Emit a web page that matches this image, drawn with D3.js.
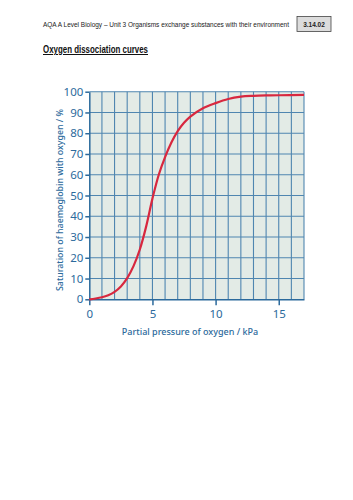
<!DOCTYPE html>
<html>
<head>
<meta charset="UTF-8">
<title>Oxygen dissociation curves</title>
<style>
  body { margin: 0; background: #fff; }
</style>
</head>
<body>
<div id="chart"></div>
<script src="https://cdn.jsdelivr.net/npm/d3@7"></script>
<script>
// data
var pressure = [0, 0.5, 1, 1.5, 2, 2.5, 3, 3.5, 4, 4.5, 5, 5.5, 6, 6.5, 7, 7.5, 8, 9, 10, 11, 12, 13, 14, 15, 17];
var saturation = [0, 0.4, 1, 2, 3.6, 6.2, 10.2, 16, 24, 35, 48.5, 60, 68.5, 75.5, 81, 85, 88, 92, 94.5, 96.5, 97.6, 98, 98.2, 98.3, 98.5];
var xTicks = [0, 5, 10, 15];
var yTicks = [0, 10, 20, 30, 40, 50, 60, 70, 80, 90, 100];

var headerText = "AQA A Level Biology \u2013 Unit 3 Organisms exchange substances with their environment";
var codeText = "3.14.02";
var titleText = "Oxygen dissociation curves";
var xTitle = "Partial pressure of oxygen / kPa";
var yTitle = "Saturation of haemoglobin with oxygen / %";

var width = 353, height = 500;
var plot = { left: 89.3, right: 304, top: 91.7, bottom: 299.3 };
var blue = "#2c6a9c";

var svg = d3.select("#chart").append("svg")
  .attr("width", width)
  .attr("height", height);

// page header
svg.append("text")
  .attr("x", 43).attr("y", 27)
  .attr("font-family", "Liberation Sans, Arial, sans-serif")
  .attr("font-size", 6.8)
  .attr("textLength", 246)
  .attr("lengthAdjust", "spacingAndGlyphs")
  .attr("fill", "#222")
  .text(headerText);

svg.append("rect")
  .attr("x", 297).attr("y", 16.5)
  .attr("width", 34).attr("height", 15)
  .attr("fill", "#dcdcdc")
  .attr("stroke", "#444")
  .attr("stroke-width", 0.8);

svg.append("text")
  .attr("x", 314).attr("y", 26.5)
  .attr("text-anchor", "middle")
  .attr("font-family", "Liberation Sans, Arial, sans-serif")
  .attr("font-size", 6.5)
  .attr("font-weight", "bold")
  .attr("fill", "#222")
  .text(codeText);

svg.append("text")
  .attr("x", 43).attr("y", 53)
  .attr("font-family", "Liberation Sans, Arial, sans-serif")
  .attr("font-size", 10)
  .attr("font-weight", "bold")
  .attr("textLength", 105)
  .attr("lengthAdjust", "spacingAndGlyphs")
  .attr("text-decoration", "underline")
  .attr("fill", "#111")
  .text(titleText);

// scales
var x = d3.scaleLinear().domain([0, 17]).range([plot.left, plot.right]);
var y = d3.scaleLinear().domain([0, 100]).range([plot.bottom, plot.top]);

// background
svg.append("rect")
  .attr("x", plot.left).attr("y", plot.top)
  .attr("width", plot.right - plot.left)
  .attr("height", plot.bottom - plot.top)
  .attr("fill", "#e3ebe6");

// grid
var grid = svg.append("g").attr("stroke", "#4f86b0").attr("stroke-width", 1.1);
grid.selectAll("line.v")
  .data(d3.range(1, 18))
  .join("line")
  .attr("class", "v")
  .attr("x1", function(d) { return x(d); })
  .attr("x2", function(d) { return x(d); })
  .attr("y1", plot.top)
  .attr("y2", plot.bottom);
grid.selectAll("line.h")
  .data(yTicks.slice(1))
  .join("line")
  .attr("class", "h")
  .attr("x1", plot.left)
  .attr("x2", plot.right)
  .attr("y1", function(d) { return y(d); })
  .attr("y2", function(d) { return y(d); });

// axes
var xAxis = d3.axisBottom(x).tickValues(xTicks).tickSize(6).tickPadding(5).tickSizeOuter(0);
var yAxis = d3.axisLeft(y).tickValues(yTicks).tickSize(4).tickPadding(2).tickSizeOuter(0);

var gx = svg.append("g")
  .attr("transform", "translate(0," + plot.bottom + ")")
  .call(xAxis);
var gy = svg.append("g")
  .attr("transform", "translate(" + plot.left + ",0)")
  .call(yAxis);

[gx, gy].forEach(function(g) {
  g.selectAll("path, line").attr("stroke", blue).attr("stroke-width", 1.5);
  g.selectAll("text")
    .attr("fill", blue)
    .attr("font-family", "Noto Sans, Open Sans, sans-serif")
    .attr("font-size", 11.5);
});

// axis titles
svg.append("text")
  .attr("x", 190).attr("y", 335)
  .attr("text-anchor", "middle")
  .attr("font-family", "Noto Sans, Open Sans, sans-serif")
  .attr("font-size", 9)
  .attr("font-weight", 500)
  .attr("fill", blue)
  .text(xTitle);

svg.append("text")
  .attr("transform", "translate(63,200) rotate(-90)")
  .attr("text-anchor", "middle")
  .attr("font-family", "Noto Sans, Open Sans, sans-serif")
  .attr("font-size", 8.8)
  .attr("font-weight", 500)
  .attr("fill", blue)
  .text(yTitle);

// curve
var points = pressure.map(function(p, i) { return { p: p, s: saturation[i] }; });
var line = d3.line()
  .x(function(d) { return x(d.p); })
  .y(function(d) { return y(d.s); })
  .curve(d3.curveCatmullRom.alpha(0.5));

svg.append("path")
  .datum(points)
  .attr("d", line)
  .attr("fill", "none")
  .attr("stroke", "#d8283f")
  .attr("stroke-width", 2.2);
</script>
</body>
</html>
